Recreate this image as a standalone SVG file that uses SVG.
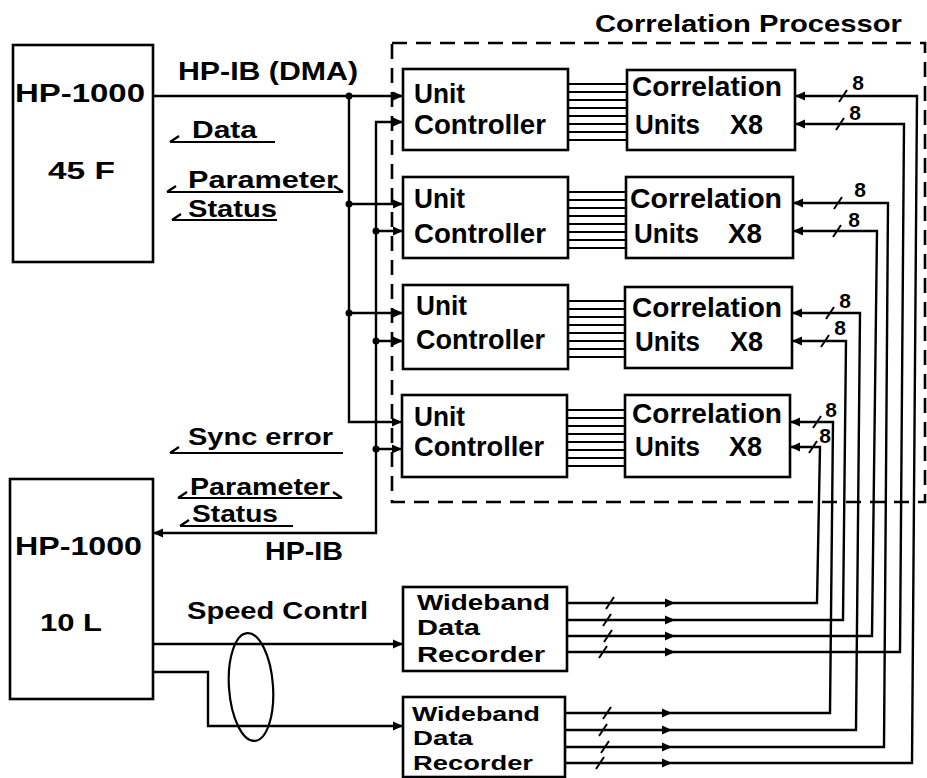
<svg xmlns="http://www.w3.org/2000/svg" width="927" height="778" viewBox="0 0 927 778">
<style>
.bx{fill:#fff;stroke:#000;stroke-width:2.6}
.ln{fill:none;stroke:#000;stroke-width:2.4}
.bus{fill:none;stroke:#000;stroke-width:2}
.hk{fill:none;stroke:#000;stroke-width:2.2}
.t{font-family:"Liberation Sans",Arial,sans-serif;font-weight:bold;fill:#000}
.dash{fill:none;stroke:#000;stroke-width:2.6;stroke-dasharray:15 9}
</style>
<defs>
<path id="aR" d="M0 0 L-10 -4.5 L-10 4.5 Z"/>
<path id="aL" d="M0 0 L10 -4.5 L10 4.5 Z"/>
<path id="sl" d="M-4 6 L4 -6" stroke="#000" stroke-width="2" fill="none"/>
<circle id="dot" r="3.5"/>
</defs>
<rect width="927" height="778" fill="#fff"/>

<g id="correlation-processor">
<rect class="dash" x="392" y="43" width="533" height="459"/>
<text class="t" x="595" y="32" font-size="24" textLength="307" lengthAdjust="spacingAndGlyphs">Correlation Processor</text>
</g>

<g id="hp1000-45f">
<rect class="bx" x="13" y="45" width="140" height="217"/>
<text class="t" x="15" y="102" font-size="25" textLength="130" lengthAdjust="spacingAndGlyphs">HP-1000</text>
<text class="t" x="48" y="179" font-size="24" textLength="67" lengthAdjust="spacingAndGlyphs">45 F</text>
</g>

<g id="hp1000-10l">
<rect class="bx" x="10" y="479" width="143" height="220"/>
<text class="t" x="15" y="555" font-size="25" textLength="127" lengthAdjust="spacingAndGlyphs">HP-1000</text>
<text class="t" x="40" y="631" font-size="24" textLength="62" lengthAdjust="spacingAndGlyphs">10 L</text>
</g>

<g id="uc1">
<rect class="bx" x="403" y="69" width="165" height="81"/>
<text class="t" x="414" y="103" font-size="27" textLength="51" lengthAdjust="spacingAndGlyphs">Unit</text>
<text class="t" x="414" y="134" font-size="27" textLength="132" lengthAdjust="spacingAndGlyphs">Controller</text>
</g>
<g id="uc2">
<rect class="bx" x="403" y="177" width="165" height="81"/>
<text class="t" x="414" y="208" font-size="27" textLength="51" lengthAdjust="spacingAndGlyphs">Unit</text>
<text class="t" x="414" y="243" font-size="27" textLength="132" lengthAdjust="spacingAndGlyphs">Controller</text>
</g>
<g id="uc3">
<rect class="bx" x="403" y="285" width="165" height="84"/>
<text class="t" x="416" y="315" font-size="27" textLength="51" lengthAdjust="spacingAndGlyphs">Unit</text>
<text class="t" x="416" y="349" font-size="27" textLength="129" lengthAdjust="spacingAndGlyphs">Controller</text>
</g>
<g id="uc4">
<rect class="bx" x="402" y="395" width="165" height="82"/>
<text class="t" x="414" y="426" font-size="27" textLength="51" lengthAdjust="spacingAndGlyphs">Unit</text>
<text class="t" x="414" y="456" font-size="27" textLength="130" lengthAdjust="spacingAndGlyphs">Controller</text>
</g>

<g id="cu1">
<rect class="bx" x="627" y="70" width="168" height="80"/>
<text class="t" x="632" y="96" font-size="27" textLength="150" lengthAdjust="spacingAndGlyphs">Correlation</text>
<text class="t" x="635" y="134" font-size="27" textLength="65" lengthAdjust="spacingAndGlyphs">Units</text>
<text class="t" x="730" y="134" font-size="27" textLength="33" lengthAdjust="spacingAndGlyphs">X8</text>
</g>
<g id="cu2">
<rect class="bx" x="626" y="177" width="167" height="81"/>
<text class="t" x="630" y="208" font-size="27" textLength="152" lengthAdjust="spacingAndGlyphs">Correlation</text>
<text class="t" x="634" y="243" font-size="27" textLength="65" lengthAdjust="spacingAndGlyphs">Units</text>
<text class="t" x="728" y="243" font-size="27" textLength="34" lengthAdjust="spacingAndGlyphs">X8</text>
</g>
<g id="cu3">
<rect class="bx" x="625" y="287" width="167" height="81"/>
<text class="t" x="632" y="317" font-size="27" textLength="150" lengthAdjust="spacingAndGlyphs">Correlation</text>
<text class="t" x="635" y="351" font-size="27" textLength="65" lengthAdjust="spacingAndGlyphs">Units</text>
<text class="t" x="730" y="351" font-size="27" textLength="33" lengthAdjust="spacingAndGlyphs">X8</text>
</g>
<g id="cu4">
<rect class="bx" x="625" y="395" width="165" height="82"/>
<text class="t" x="632" y="423" font-size="27" textLength="150" lengthAdjust="spacingAndGlyphs">Correlation</text>
<text class="t" x="635" y="456" font-size="27" textLength="65" lengthAdjust="spacingAndGlyphs">Units</text>
<text class="t" x="729" y="456" font-size="27" textLength="33" lengthAdjust="spacingAndGlyphs">X8</text>
</g>

<g id="recorder1">
<rect class="bx" x="403" y="587" width="164" height="84"/>
<text class="t" x="417" y="610" font-size="22" textLength="133" lengthAdjust="spacingAndGlyphs">Wideband</text>
<text class="t" x="417" y="635" font-size="22" textLength="63" lengthAdjust="spacingAndGlyphs">Data</text>
<text class="t" x="417" y="662" font-size="22" textLength="128" lengthAdjust="spacingAndGlyphs">Recorder</text>
</g>
<g id="recorder2">
<rect class="bx" x="403" y="697" width="162" height="80"/>
<text class="t" x="412" y="721" font-size="21" textLength="128" lengthAdjust="spacingAndGlyphs">Wideband</text>
<text class="t" x="413" y="745" font-size="21" textLength="60" lengthAdjust="spacingAndGlyphs">Data</text>
<text class="t" x="413" y="770" font-size="21" textLength="120" lengthAdjust="spacingAndGlyphs">Recorder</text>
</g>

<g id="labels">
<text class="t" x="178" y="80" font-size="25" textLength="180" lengthAdjust="spacingAndGlyphs">HP-IB (DMA)</text>
<text class="t" x="192" y="138" font-size="24" textLength="65" lengthAdjust="spacingAndGlyphs">Data</text>
<text class="t" x="188" y="188" font-size="24" textLength="150" lengthAdjust="spacingAndGlyphs">Parameter</text>
<text class="t" x="188" y="217" font-size="24" textLength="89" lengthAdjust="spacingAndGlyphs">Status</text>
<text class="t" x="188" y="445" font-size="24" textLength="145" lengthAdjust="spacingAndGlyphs">Sync error</text>
<text class="t" x="190" y="495" font-size="24" textLength="140" lengthAdjust="spacingAndGlyphs">Parameter</text>
<text class="t" x="192" y="522" font-size="24" textLength="86" lengthAdjust="spacingAndGlyphs">Status</text>
<text class="t" x="265" y="560" font-size="25" textLength="78" lengthAdjust="spacingAndGlyphs">HP-IB</text>
<text class="t" x="187" y="619" font-size="24" textLength="181" lengthAdjust="spacingAndGlyphs">Speed Contrl</text>
<g font-size="21" text-anchor="middle">
<text class="t" x="858" y="90">8</text>
<text class="t" x="855" y="120">8</text>
<text class="t" x="860" y="197">8</text>
<text class="t" x="854" y="227">8</text>
<text class="t" x="845" y="308">8</text>
<text class="t" x="840" y="335">8</text>
<text class="t" x="831" y="417">8</text>
<text class="t" x="825" y="443">8</text>
</g>
</g>

<g id="connectors">
<path class="hk" d="M170 142 H275 M170 142 L179 136"/>
<path class="hk" d="M167 192 H343 M167 192 L176 186 M343 192 L334 186"/>
<path class="hk" d="M172 220 H277 M172 220 L181 214"/>
<path class="hk" d="M170 453 H343 M170 453 L179 447"/>
<path class="hk" d="M178 498 H342 M178 498 L187 492 M342 498 L333 492"/>
<path class="hk" d="M180 526 H293 M180 526 L189 520"/>

<path class="ln" d="M153 96 H403"/>
<path class="ln" d="M349 96 V422 H403"/>
<path class="ln" d="M349 204 H403 M349 313 H403"/>
<path class="ln" d="M403 122 H376 V533 H153"/>
<path class="ln" d="M376 231 H403 M376 341 H403 M376 449 H403"/>
<use href="#aR" x="403" y="96"/>
<use href="#aR" x="403" y="122"/>
<use href="#aR" x="403" y="204"/>
<use href="#aR" x="403" y="231"/>
<use href="#aR" x="403" y="313"/>
<use href="#aR" x="403" y="341"/>
<use href="#aR" x="402" y="422"/>
<use href="#aR" x="402" y="449"/>
<use href="#aL" x="153" y="533"/>
<use href="#dot" x="349" y="96"/>
<use href="#dot" x="349" y="204"/>
<use href="#dot" x="349" y="313"/>
<use href="#dot" x="376" y="231"/>
<use href="#dot" x="376" y="341"/>
<use href="#dot" x="376" y="449"/>

<path class="ln" d="M153 644 H403"/>
<path class="ln" d="M153 672 H208 V726 H403"/>
<use href="#aR" x="403" y="644"/>
<use href="#aR" x="403" y="726"/>
<ellipse cx="251" cy="687" rx="22" ry="54" transform="rotate(-4 251 687)" fill="none" stroke="#000" stroke-width="2.2"/>

<path class="bus" d="M568 84 H627 M568 92 H627 M568 100 H627 M568 108 H627 M568 116 H627 M568 124 H627 M568 132 H627 M568 140 H627"/>
<path class="bus" d="M568 192 H626 M568 200 H626 M568 208 H626 M568 216 H626 M568 224 H626 M568 232 H626 M568 240 H626 M568 248 H626"/>
<path class="bus" d="M568 301 H625 M568 309 H625 M568 317 H625 M568 325 H625 M568 333 H625 M568 341 H625 M568 349 H625 M568 357 H625"/>
<path class="bus" d="M567 410 H625 M567 418 H625 M567 426 H625 M567 434 H625 M567 442 H625 M567 450 H625 M567 458 H625 M567 466 H625"/>

<path class="ln" d="M567 603 H817 L820 447 H790"/>
<path class="ln" d="M567 620 H843 L846 341 H792"/>
<path class="ln" d="M567 636 H872 L877 231 H793"/>
<path class="ln" d="M567 652 H900 L904 124 H795"/>
<path class="ln" d="M565 713 H830 L833 422 H790"/>
<path class="ln" d="M565 730 H856 L860 313 H792"/>
<path class="ln" d="M565 747 H884 L888 203 H793"/>
<path class="ln" d="M565 763 H912 L917 96 H795"/>
<use href="#aR" x="675" y="603"/>
<use href="#aR" x="675" y="620"/>
<use href="#aR" x="675" y="636"/>
<use href="#aR" x="675" y="652"/>
<use href="#aR" x="672" y="713"/>
<use href="#aR" x="672" y="730"/>
<use href="#aR" x="672" y="747"/>
<use href="#aR" x="672" y="763"/>
<use href="#aL" x="795" y="96"/>
<use href="#aL" x="795" y="124"/>
<use href="#aL" x="793" y="203"/>
<use href="#aL" x="793" y="231"/>
<use href="#aL" x="792" y="313"/>
<use href="#aL" x="792" y="341"/>
<use href="#aL" x="790" y="422"/>
<use href="#aL" x="790" y="447"/>
<use href="#sl" x="610" y="603"/>
<use href="#sl" x="607" y="620"/>
<use href="#sl" x="608" y="636"/>
<use href="#sl" x="603" y="652"/>
<use href="#sl" x="607" y="713"/>
<use href="#sl" x="603" y="730"/>
<use href="#sl" x="605" y="747"/>
<use href="#sl" x="600" y="763"/>
<use href="#sl" x="843" y="96"/>
<use href="#sl" x="840" y="124"/>
<use href="#sl" x="838" y="203"/>
<use href="#sl" x="837" y="231"/>
<use href="#sl" x="830" y="313"/>
<use href="#sl" x="825" y="341"/>
<use href="#sl" x="817" y="422"/>
<use href="#sl" x="813" y="447"/>
</g>
</svg>
